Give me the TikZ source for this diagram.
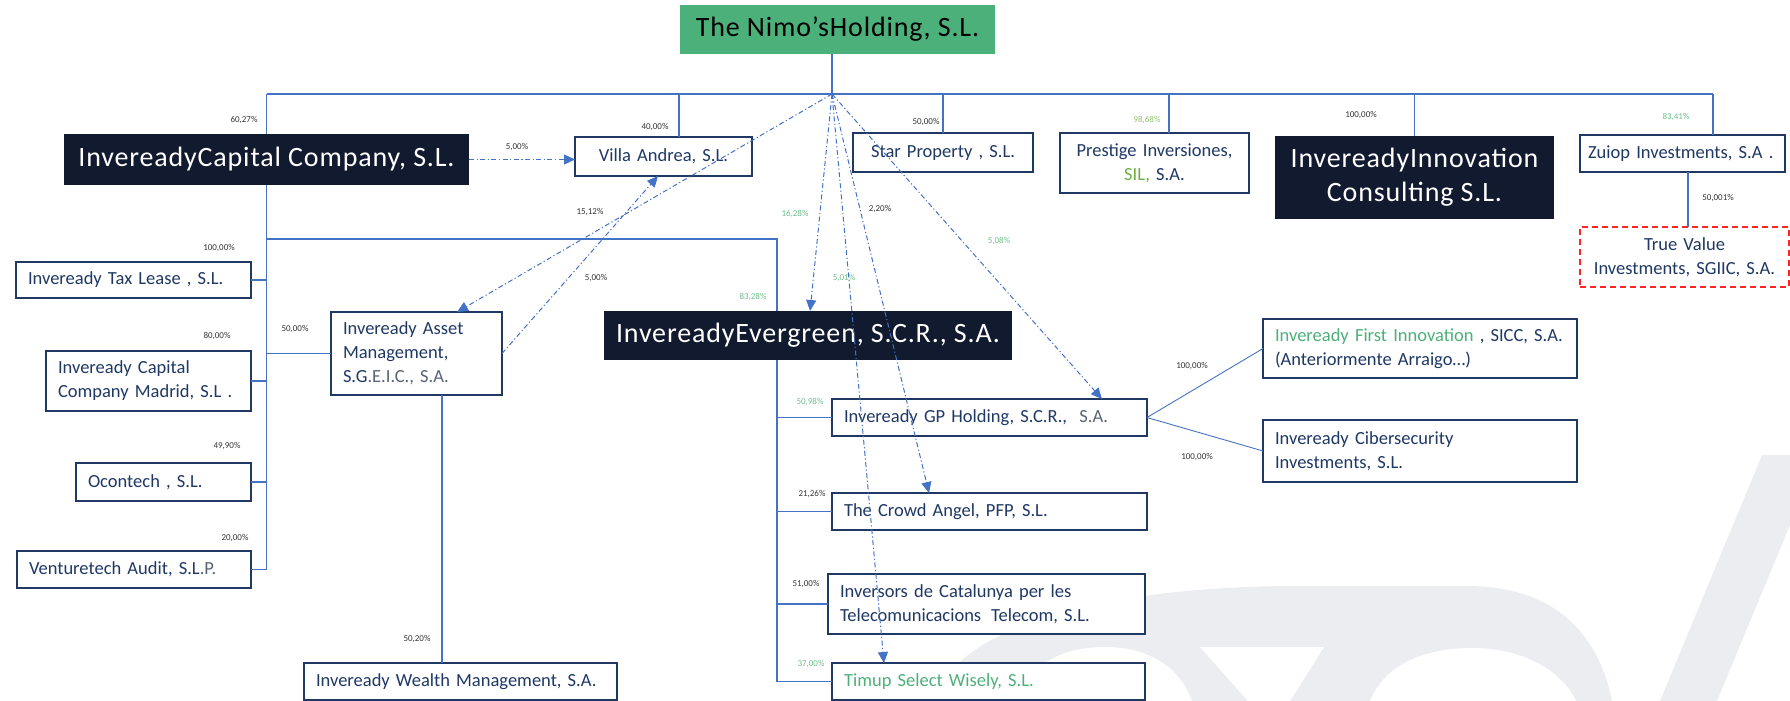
\documentclass[tikz,border=0pt]{standalone}
\usepackage{fontspec}
\setmainfont{Carlito}
\newfontfamily\spacedfont[LetterSpace=3]{Carlito}
\usetikzlibrary{arrows.meta,calc}

\definecolor{boxnavy}{HTML}{1F3864}
\definecolor{darknavy}{HTML}{111A2E}
\definecolor{nimogreen}{HTML}{4CB07A}
\definecolor{linkblue}{HTML}{4472C4}
\definecolor{pctgray}{HTML}{333333}
\definecolor{pctgreen}{HTML}{6CC08B}
\definecolor{pctolive}{HTML}{8DC46B}
\definecolor{firmgreen}{HTML}{4DB07B}
\definecolor{silgreen}{HTML}{70AD47}
\definecolor{txtgray}{HTML}{5A6374}
\definecolor{markgray}{HTML}{ECEDF1}
\definecolor{dashred}{HTML}{FF2424}

\newcommand\firmfont{\fontsize{18.5}{24}\selectfont}
\newcommand\groupfont{\spacedfont\fontsize{28}{34}\selectfont}
\newcommand\sharefont{\fontsize{9}{10}\selectfont}

\tikzset{
	firm/.style = {draw=boxnavy, line width=1.6pt, fill=white, text=boxnavy, font=\firmfont, anchor=north west, inner xsep=12pt, inner ysep=0pt, outer sep=0pt, align=left},
	group/.style = {fill=darknavy, text=white, font=\groupfont, anchor=north west, inner sep=0pt, outer sep=0pt, align=center},
	parent/.style = {group, fill=nimogreen, text=black},
	share/.style = {font=\sharefont, text=pctgray, inner sep=0pt},
	gshare/.style = {share, text=pctgreen},
	link/.style = {draw=linkblue, line width=1.1pt},
	stake/.style = {draw=linkblue, line width=1pt, dash pattern=on 5pt off 2.5pt on 1.2pt off 2.5pt, -{Triangle[length=11pt,width=10pt]}}
}

\begin{document}
\begin{tikzpicture}[x=1pt,y=-1pt]
	\useasboundingbox (0,0) rectangle (1790,701);

	% watermark
	\fill[markgray] (936,701) .. controls (950,630) and (1100,586) .. (1297,586) -- (1467,586) .. controls (1560,586) and (1600,640) .. (1612,701) -- cycle;
	\fill[white] (1016,701) .. controls (1030,662) and (1065,647) .. (1105,647) .. controls (1150,647) and (1180,668) .. (1192,701) -- cycle;
	\fill[white] (1200,647) -- (1324,647) -- (1290,701) -- (1248,701) -- cycle;
	\fill[white] (1370,701) .. controls (1385,664) and (1425,648) .. (1472,648) .. controls (1520,648) and (1560,668) .. (1576,701) -- cycle;
	\fill[markgray] (1660,701) -- (1762,455) -- (1790,455) -- (1790,525) -- (1717,701) -- cycle;

	% companies
	\node[parent, minimum width=315pt, minimum height=49pt] (nimo) at (680,5) {The Nimo’sHolding, S.L.};

	\node[group, minimum width=405pt, minimum height=51pt] (capital) at (64,134) {InvereadyCapital Company, S.L.};
	\node[firm, align=center, minimum width=177pt, minimum height=39pt, text width=153pt] (villa) at (575,137) {Villa Andrea, S.L.};
	\node[firm, align=center, minimum width=180pt, minimum height=39pt, text width=156pt] (star) at (853,133) {Star Property , S.L.};
	\node[firm, align=center, minimum width=189pt, minimum height=60pt, text width=165pt] (prestige) at (1060,133) {Prestige Inversiones,\\{\color{silgreen}SIL,} S.A.};
	\node[group, minimum width=279pt, minimum height=83pt] (innov) at (1275,136) {InvereadyInnovation\\Consulting S.L.};
	\node[firm, inner xsep=8pt, minimum width=205pt, minimum height=37pt, text width=189pt] (zuiop) at (1580,135) {Zuiop Investments, S.A~.};
	\node[firm, draw=dashred, dash pattern=on 6pt off 4pt, align=center, minimum width=209pt, minimum height=60pt, text width=185pt] (truev) at (1580,227) {True Value\\Investments, SGIIC, S.A.};

	\node[firm, minimum width=235pt, minimum height=36pt, text width=211pt] (taxlease) at (16,262) {Inveready Tax Lease , S.L.};
	\node[firm, minimum width=205pt, minimum height=60pt, text width=181pt] (madrid) at (46,351) {Inveready Capital\\Company Madrid, S.L .};
	\node[firm, minimum width=175pt, minimum height=38pt, text width=151pt] (ocontech) at (76,463) {Ocontech , S.L.};
	\node[firm, minimum width=234pt, minimum height=37pt, text width=210pt] (venture) at (17,551) {Venturetech Audit, S.L{\color{txtgray}.P.}};
	\node[firm, minimum width=171pt, minimum height=83pt, text width=147pt] (asset) at (331,312) {Inveready Asset\\Management,\\S.G{\color{txtgray}.E.I.C., S.A.}};
	\node[firm, minimum width=313pt, minimum height=37pt, text width=289pt] (wealth) at (304,663) {Inveready Wealth Management, S.A.};

	\node[group, minimum width=408pt, minimum height=49pt] (evergreen) at (604,311) {InvereadyEvergreen, S.C.R., S.A.};
	\node[firm, minimum width=315pt, minimum height=37pt, text width=291pt] (gp) at (832,399) {Inveready GP Holding, S.C.R., \ {\color{txtgray}S.A.}};
	\node[firm, minimum width=315pt, minimum height=37pt, text width=291pt] (crowd) at (832,493) {The Crowd Angel, PFP, S.L.};
	\node[firm, minimum width=317pt, minimum height=60pt, text width=293pt] (inversors) at (828,574) {Inversors de Catalunya per les\\Telecomunicacions\hspace{10pt}Telecom, S.L.};
	\node[firm, text=firmgreen, minimum width=313pt, minimum height=37pt, text width=289pt] (timup) at (832,663) {Timup Select Wisely, S.L.};
	\node[firm, minimum width=314pt, minimum height=59pt, text width=290pt] (first) at (1263,319) {{\color{firmgreen}Inveready First Innovation} , SICC, S.A.\\(Anteriormente Arraigo…)};
	\node[firm, minimum width=314pt, minimum height=62pt, text width=290pt] (ciber) at (1263,420) {Inveready Cibersecurity\\Investments, S.L.};

	% ownership lines
	\coordinate (hub) at (832,94);
	\coordinate (d-villa) at (679,94);
	\coordinate (d-prestige) at (1169,94);
	\coordinate (d-zuiop) at (1713,94);
	\coordinate (d-truev) at (1688,200);
	\coordinate (d-ever) at (777,239);
	\coordinate (d-wealth) at (442,500);
	\draw[link] (hub |- nimo.south) -- (hub);
	\draw[link] (capital.north |- hub) -- (d-zuiop);
	\draw[link] (capital.north |- hub) -- (capital.north);
	\draw[link] (d-villa) -- (d-villa |- villa.north);
	\draw[link] (star.north |- hub) -- (star.north);
	\draw[link] (d-prestige) -- (d-prestige |- prestige.north);
	\draw[link] (innov.north |- hub) -- (innov.north);
	\draw[link] (d-zuiop) -- (d-zuiop |- zuiop.north);
	\draw[link] (d-truev |- zuiop.south) -- (d-truev |- truev.north);

	\draw[link] (capital.south) -- (capital.south |- venture.east) -- (venture.east);
	\draw[link] (capital.south |- taxlease.east) -- (taxlease.east);
	\draw[link] (capital.south |- madrid.east) -- (madrid.east);
	\draw[link] (capital.south |- ocontech.east) -- (ocontech.east);
	\draw[link] (capital.south |- asset.west) -- (asset.west);
	\draw[link] (capital.south |- d-ever) -- (d-ever) -- (d-ever |- evergreen.north);
	\draw[link] (d-wealth |- asset.south) -- (d-wealth |- wealth.north);

	\draw[link] (d-ever |- evergreen.south) -- (d-ever |- timup.west) -- (timup.west);
	\draw[link] (d-ever |- gp.west) -- (gp.west);
	\draw[link] (d-ever |- crowd.west) -- (crowd.west);
	\draw[link] (d-ever |- inversors.west) -- (inversors.west);
	\draw[link, line width=0.9pt] (gp.east) -- (first.west);
	\draw[link, line width=0.9pt] (gp.east) -- (ciber.west);

	% minority stakes
	\draw[stake] (capital.east) -- (villa.west |- capital.east);
	\draw[stake] (hub) -- ($(asset.north west)!0.737!(asset.north east)$);
	\draw[stake] (asset.east) -- ($(villa.south west)!0.469!(villa.south east)$);
	\draw[stake] (hub) -- ($(evergreen.north west)!0.505!(evergreen.north east)$);
	\draw[stake] (hub) -- ($(crowd.north west)!0.308!(crowd.north east)$);
	\draw[stake] (hub) -- ($(timup.north west)!0.166!(timup.north east)$);
	\draw[stake] (hub) -- ($(gp.north west)!0.857!(gp.north east)$);

	% percentages
	\node[share] (s-capital) at (244,120) {60,27\%};
	\node[share] (s-cv) at (517,147) {5,00\%};
	\node[share] (s-villa) at (655,127) {40,00\%};
	\node[share] (s-star) at (926,122) {50,00\%};
	\node[share, text=pctolive] (s-prestige) at (1147,120) {98,68\%};
	\node[share] (s-innov) at (1361,115) {100,00\%};
	\node[gshare] (s-zuiop) at (1676,117) {83,41\%};
	\node[share] (s-truev) at (1718,198) {50,001\%};
	\node[share] (s-ha) at (590,212) {15,12\%};
	\node[gshare] (s-he) at (795,214) {16,28\%};
	\node[share] (s-hc) at (880,209) {2,20\%};
	\node[gshare] (s-hg) at (999,241) {5,08\%};
	\node[share] (s-av) at (596,278) {5,00\%};
	\node[gshare] (s-ever) at (753,297) {83,28\%};
	\node[gshare] (s-ht) at (844,278) {5,01\%};
	\node[share] (s-tax) at (219,248) {100,00\%};
	\node[share] (s-madrid) at (217,336) {80,00\%};
	\node[share] (s-asset) at (295,329) {50,00\%};
	\node[share] (s-ocon) at (227,446) {49,90\%};
	\node[share] (s-venture) at (235,538) {20,00\%};
	\node[share] (s-wealth) at (417,639) {50,20\%};
	\node[gshare] (s-gp) at (810,402) {50,98\%};
	\node[share] (s-crowd) at (812,494) {21,26\%};
	\node[share] (s-inv) at (806,584) {51,00\%};
	\node[gshare] (s-timup) at (811,664) {37,00\%};
	\node[share] (s-first) at (1192,366) {100,00\%};
	\node[share] (s-ciber) at (1197,457) {100,00\%};
\end{tikzpicture}
\end{document}
